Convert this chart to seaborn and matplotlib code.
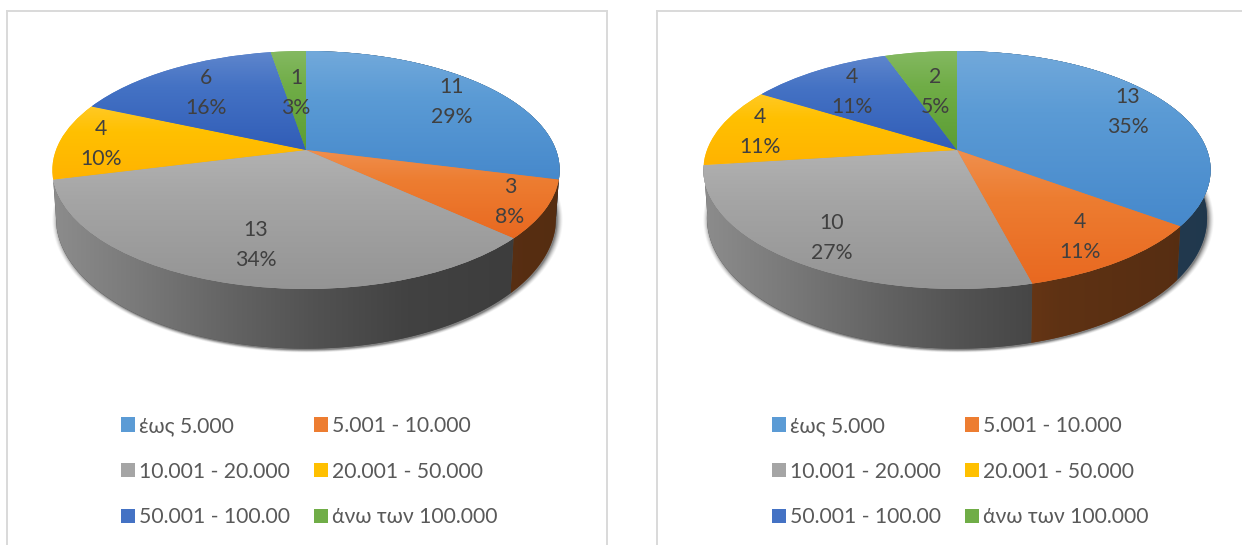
import matplotlib
matplotlib.use('Agg')
import matplotlib.pyplot as plt
from matplotlib.patches import Patch
from matplotlib.transforms import Transform
import numpy as np
import seaborn as sns

categories = ['έως 5.000', '5.001 - 10.000', '10.001 - 20.000', '20.001 - 50.000', '50.001 - 100.00', 'άνω των 100.000']
counts_left = [11, 3, 13, 4, 6, 1]
counts_right = [13, 4, 10, 4, 4, 2]
pct_left = [29, 8, 34, 10, 16, 3]
pct_right = [35, 11, 27, 11, 11, 5]
hex_colors = ['#5B9BD5', '#ED7D31', '#A5A5A5', '#FFC000', '#4472C4', '#70AD47']

W, H = 1242, 545
CY = 150
TILT = 0.168


class Tilt(Transform):
    # flat circle -> perspective ellipse, in pixels around the pie centre
    input_dims = 2
    output_dims = 2

    def __init__(self, a, b, dy=0):
        super().__init__()
        self.a, self.b, self.dy = a, b, dy

    def transform_non_affine(self, values):
        values = np.asarray(values, dtype=float)
        d = 1 + TILT * values[:, 1]
        return np.column_stack([self.a * values[:, 0] / d, self.b * values[:, 1] / d + self.dy])


def grad_image(ax, rgb_rows, extent, clip, zorder):
    im = ax.imshow(rgb_rows, extent=extent, aspect='auto', interpolation='bilinear', zorder=zorder)
    im.set_clip_path(clip)


def draw_pie(left_px, width_px, cx, counts, pcts, label_offsets):
    ax = fig.add_axes([left_px / W, 1 - 570 / H, width_px / W, 559 / H])
    colors = np.array(sns.color_palette(hex_colors))
    wedges, _ = ax.pie(counts, colors=[tuple(c) for c in colors], startangle=90, counterclock=False,
                       radius=1, frame=True)
    ax.set_aspect('auto')

    top = Tilt(250, 115.6)
    bottom = Tilt(246.5, 127, -46)

    # soft shadow under the rim
    th = np.linspace(0, 2 * np.pi, 300)
    circle = np.column_stack([np.cos(th), np.sin(th)])
    for grow, alpha in zip([5, 4, 3, 2, 1, 0], [.04, .06, .08, .1, .14, .2]):
        s = Tilt(246.5 + grow, 127 + grow * .4, -46 - 1.5).transform(circle)
        ax.fill(s[:, 0] + 1.5, s[:, 1], color='black', alpha=alpha, lw=0, zorder=1)

    # side wall of each slice, lit from the left
    xs = np.linspace(-1, 1, 200)
    light = np.interp(xs, [-1, -.68, -.29, .05, .4, .8, 1], [.85, .74, .6, .49, .4, .37, .36])
    for w, c in zip(wedges, colors):
        mid = np.radians((w.theta1 + w.theta2) / 2)
        if np.cos(mid) < 0 and np.sin(mid) > 0:
            continue  # back left slices have no visible wall
        t = np.radians(np.linspace(w.theta1, w.theta2, 120))
        arc = np.column_stack([np.cos(t), np.sin(t)])
        poly = np.vstack([top.transform(arc), bottom.transform(arc)[::-1]])
        flat = ax.fill(poly[:, 0], poly[:, 1], color=c * .45, lw=0, zorder=2)[0]
        row = light[None, :, None] * c[None, None, :]
        grad_image(ax, row, (-254, 254, -300, 100), flat, 3)

    # top face, light on top and more saturated to the bottom
    for w, c in zip(wedges, colors):
        w.set_transform(top + ax.transData)
        w.set_zorder(4)
        w.set_linewidth(0)
        pts = top.transform(w.get_path().vertices)
        g = np.linspace(0, 1, 80)[:, None, None]
        low = c ** 1.25
        row = np.where(g < .35, c + (1 - c) * .14 * (1 - g / .35), c + (low - c) * (g - .35) / .65)
        grad_image(ax, row, (pts[:, 0].min(), pts[:, 0].max(), pts[:, 1].min(), pts[:, 1].max()), w, 5)

    for n, p, (dx, dy) in zip(counts, pcts, label_offsets):
        ax.text(dx, dy, f'{n}\n{p}%', ha='center', va='center', color='#404040',
                fontsize=15.3, linespacing=1.68, zorder=6)

    ax.set_xlim(left_px - cx, left_px + width_px - cx)
    ax.set_ylim(CY - 570, CY - 11)
    ax.set_xticks([])
    ax.set_yticks([])
    for sp in ax.spines.values():
        sp.set_color('#d9d9d9')
        sp.set_linewidth(1.4)

    handles = [Patch(facecolor=c, lw=0) for c in hex_colors]
    # matplotlib fills columns first, so reorder to read across the rows
    order = [0, 2, 4, 1, 3, 5]
    ax.legend([handles[i] for i in order], [categories[i] for i in order], ncol=2, frameon=False,
              loc='upper left', bbox_to_anchor=((cx - 306 + 104 - left_px) / width_px, 1 - (399 - 11) / 559),
              fontsize=15.2, labelcolor='#595959', handlelength=.66, handleheight=.66, handletextpad=.19,
              labelspacing=1.22, columnspacing=1.16, borderpad=0.3)
    return ax


sns.set_theme(style='white')
plt.rcParams['font.family'] = ['Lato', 'Open Sans', 'DejaVu Sans']

fig = plt.figure(figsize=(W / 100, H / 100), dpi=100)

offsets_left = [(146, 48), (204, -52), (-50, -95), (-205, 6), (-100, 57), (-10, 57)]
offsets_right = [(171, 38), (123, -87), (-125, -88), (-197, 18), (-105, 58), (-22, 58)]

draw_pie(7, 600, 306, counts_left, pct_left, offsets_left)
draw_pie(657, 600, 957, counts_right, pct_right, offsets_right)

fig.savefig('out.png', dpi=100)
